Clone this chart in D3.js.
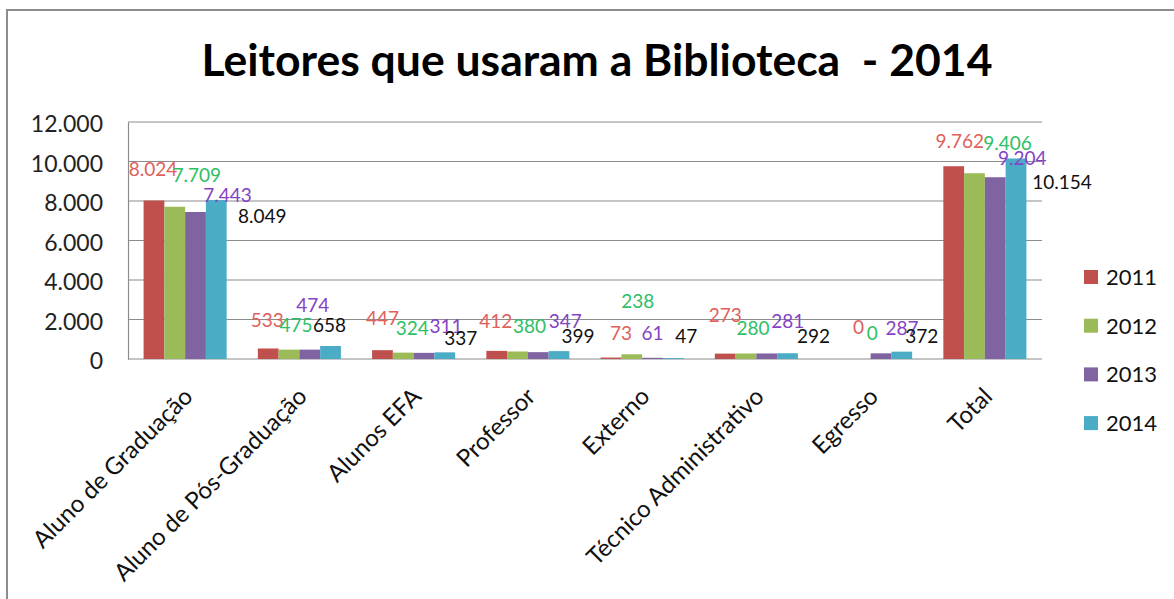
<!DOCTYPE html>
<html>
<head>
<meta charset="utf-8">
<script src="https://cdn.jsdelivr.net/npm/d3@7"></script>
<style>
  body { margin: 0; background: #fff; }
  text { font-family: Lato, "Open Sans", sans-serif; }
</style>
</head>
<body>
<div id="chart-area"></div>
<script>
// Data
var categories = ["Aluno de Graduação", "Aluno de Pós-Graduação", "Alunos EFA", "Professor",
    "Externo", "Técnico Administrativo", "Egresso", "Total"];
var years = ["2011", "2012", "2013", "2014"];
var values2011 = [8024, 533, 447, 412, 73, 273, 0, 9762];
var values2012 = [7709, 475, 324, 380, 238, 280, 0, 9406];
var values2013 = [7443, 474, 311, 347, 61, 281, 287, 9204];
var values2014 = [8049, 658, 337, 399, 47, 292, 372, 10154];
var yTicks = [0, 2000, 4000, 6000, 8000, 10000, 12000];

// labels were dragged by hand in the original, offsets from the bar top centre
var labelNudge = [
    [[-1,-25],[-1,-21],[0,-25],[-1,-23],[10,-18],[0,-32],[19,-25],[6,-18]],
    [[22,-25],[7,-18],[9,-18],[12,-18],[6,-46],[7,-18],[12,-19],[33,-23]],
    [[32,-10],[3,-38],[22,-20],[27,-24],[0,-18],[21,-25],[21,-18],[27,-12]],
    [[46,23],[-1,-14],[16,-7],[19,-8],[13,-15],[26,-10],[20,-9],[46,31]]
];

var series = [values2011, values2012, values2013, values2014];
var barColors = ["#C0504D", "#9BBB59", "#8064A2", "#4BACC6"];
var labelColors = ["#E0605C", "#2DC065", "#8443C4", "#111111"];

var W = 1174, H = 599;
var margin = { left: 128, right: 132, top: 122, bottom: 240 };
var width = W - margin.left - margin.right,
    height = H - margin.top - margin.bottom;

var locale = d3.formatLocale({ decimal: ",", thousands: ".", grouping: [3], currency: ["R$", ""] });
var fmt = locale.format(",");

var svg = d3.select("#chart-area").append("svg")
    .attr("width", W)
    .attr("height", H);

// outer chart frame
svg.append("rect")
    .attr("x", 7).attr("y", 10)
    .attr("width", W + 20).attr("height", H + 20)
    .attr("fill", "none")
    .attr("stroke", "#8c8c8c")
    .attr("stroke-width", 2);

// Title
svg.append("text")
    .attr("x", 597)
    .attr("y", 76)
    .attr("text-anchor", "middle")
    .attr("font-size", "44.5px")
    .attr("font-weight", "bold")
    .style("white-space", "pre")
    .text("Leitores que usaram a Biblioteca  - 2014");

var g = svg.append("g")
    .attr("transform", "translate(" + margin.left + "," + margin.top + ")");

// Scales
var x0 = d3.scaleBand().domain(categories).range([0, width])
    .paddingInner(0.273).paddingOuter(0.1365);
var x1 = d3.scaleBand().domain(years).range([0, x0.bandwidth()]);
var y = d3.scaleLinear().domain([0, 12000]).range([height, 0]);

// Gridlines
g.selectAll(".grid")
    .data(yTicks)
    .enter().append("line")
    .attr("x1", 0).attr("x2", width)
    .attr("y1", function(d){ return y(d); })
    .attr("y2", function(d){ return y(d); })
    .attr("stroke", "#8c8c8c")
    .attr("stroke-width", 1.2);

// Y axis
var yAxisCall = d3.axisLeft(y).tickValues(yTicks).tickSize(0).tickPadding(25)
    .tickFormat(fmt);
var yAxis = g.append("g").call(yAxisCall);
yAxis.select(".domain").attr("stroke", "#8c8c8c").attr("stroke-width", 1.2);
yAxis.selectAll("text")
    .attr("font-size", "23px")
    .attr("fill", "#222")
    .attr("dy", "0.42em");

// Bars
var groups = g.selectAll(".cat")
    .data(categories)
    .enter().append("g")
    .attr("transform", function(d){ return "translate(" + x0(d) + ",0)"; });

groups.selectAll("rect")
    .data(function(c, i){ return series.map(function(s, k){ return { k: k, v: s[i] }; }); })
    .enter().append("rect")
    .attr("x", function(d){ return x1(years[d.k]); })
    .attr("width", x1.bandwidth())
    .attr("y", function(d){ return y(d.v); })
    .attr("height", function(d){ return height - y(d.v); })
    .attr("fill", function(d){ return barColors[d.k]; });

// Data labels
series.forEach(function(s, k){
    g.selectAll(".lbl" + k)
        .data(s)
        .enter().append("text")
        .attr("x", function(d, i){
            return x0(categories[i]) + x1(years[k]) + x1.bandwidth() / 2 + labelNudge[k][i][0];
        })
        .attr("y", function(d, i){ return y(d) + labelNudge[k][i][1]; })
        .attr("text-anchor", "middle")
        .attr("font-size", "19px")
        .attr("fill", labelColors[k])
        .text(function(d){ return fmt(d); });
});

// Category labels
g.selectAll(".catLabel")
    .data(categories)
    .enter().append("text")
    .attr("transform", function(d){
        return "translate(" + (x0(d) + x0.bandwidth() / 2 + 9) + "," + (height + 39) + ") rotate(-45)";
    })
    .attr("text-anchor", "end")
    .attr("font-size", "24px")
    .attr("fill", "#111")
    .text(function(d){ return d; });

// Legend
var legend = svg.selectAll(".legend")
    .data(years)
    .enter().append("g")
    .attr("transform", function(d, i){ return "translate(1084," + (277 + i * 48.7) + ")"; });
legend.append("rect")
    .attr("x", 0).attr("y", -7)
    .attr("width", 14).attr("height", 14)
    .attr("fill", function(d, i){ return barColors[i]; });
legend.append("text")
    .attr("x", 22)
    .attr("dy", "0.36em")
    .attr("font-size", "22px")
    .attr("fill", "#111")
    .text(function(d){ return d; });
</script>
</body>
</html>
